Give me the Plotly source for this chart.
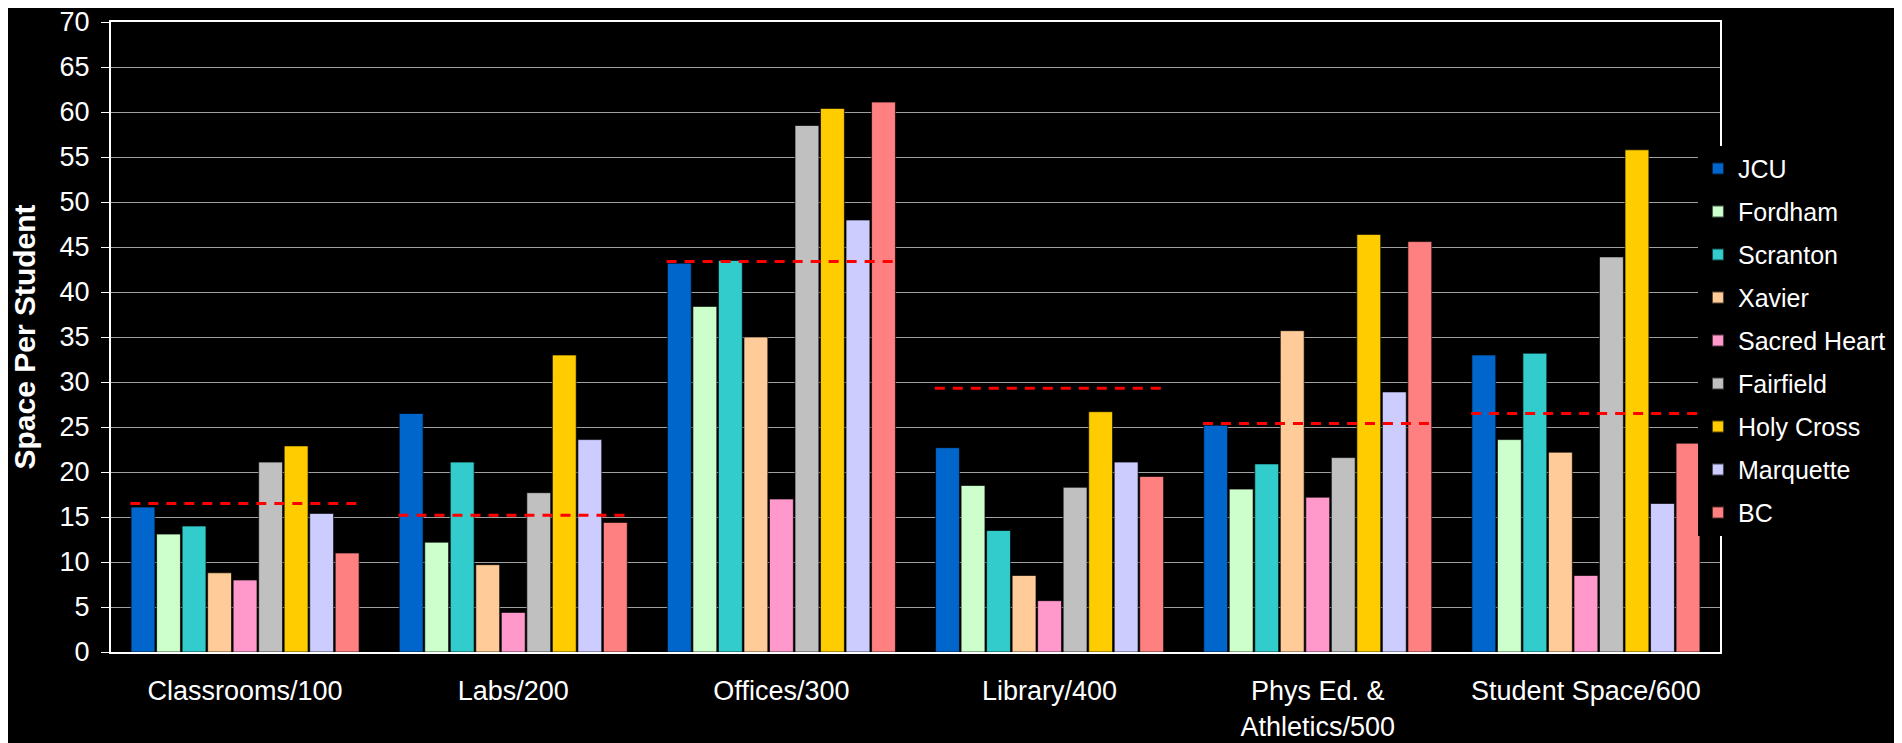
import plotly.graph_objects as go

categories = ["Classrooms/100", "Labs/200", "Offices/300", "Library/400",
              "Phys Ed. &<br>Athletics/500", "Student Space/600"]

schools = ["JCU", "Fordham", "Scranton", "Xavier", "Sacred Heart",
           "Fairfield", "Holy Cross", "Marquette", "BC"]

colors = ["#0066CC", "#CCFFCC", "#33CCCC", "#FFCC99", "#FF99CC",
          "#C0C0C0", "#FFCC00", "#CCCCFF", "#FF8080"]

jcu = [16.1, 26.5, 43.2, 22.7, 25.2, 33.0]
fordham = [13.1, 12.2, 38.4, 18.5, 18.1, 23.6]
scranton = [14.0, 21.1, 43.5, 13.5, 20.9, 33.2]
xavier = [8.8, 9.7, 35.0, 8.5, 35.7, 22.2]
sacred_heart = [8.0, 4.4, 17.0, 5.7, 17.2, 8.5]
fairfield = [21.1, 17.7, 58.5, 18.3, 21.6, 43.9]
holy_cross = [22.9, 33.0, 60.4, 26.7, 46.4, 55.8]
marquette = [15.4, 23.6, 48.0, 21.1, 28.9, 16.5]
bc = [11.0, 14.4, 61.1, 19.5, 45.6, 23.2]

benchmark = [16.5, 15.2, 43.4, 29.3, 25.4, 26.5]

series = [jcu, fordham, scranton, xavier, sacred_heart,
          fairfield, holy_cross, marquette, bc]

FONT = "Arial, Liberation Sans, sans-serif"

fig = go.Figure()
for name, vals, col in zip(schools, series, colors):
    fig.add_trace(go.Bar(
        name=name, x=categories, y=vals, legendgroup=name,
        marker=dict(color=col, line=dict(color="rgba(0,0,0,0.65)", width=1)),
    ))

shapes = []
for i, b in enumerate(benchmark):
    shapes.append(dict(
        type="line", xref="x", yref="y",
        x0=i - 0.428, x1=i + 0.418, y0=b, y1=b,
        line=dict(color="#FF0000", width=3, dash="10px,8px"),
        layer="above",
    ))

fig.update_layout(
    width=1894, height=735,
    paper_bgcolor="black", plot_bgcolor="black",
    margin=dict(l=103, r=182, t=14, b=91, autoexpand=False),
    barmode="group", bargap=0.1435, bargroupgap=0.065,
    font=dict(family=FONT, color="white", size=27),
    shapes=shapes,
    showlegend=True,
    legend=dict(
        x=0.9863, xanchor="left", y=0.494, yanchor="middle",
        bgcolor="black", borderwidth=0,
        font=dict(family=FONT, size=25, color="white"),
        tracegroupgap=7.5, itemsizing="constant",
    ),
    xaxis=dict(
        type="category", showgrid=False, showline=True, linecolor="white",
        linewidth=2, mirror=True, ticks="", ticklabelstandoff=14,
        ticklabeloverflow="allow",
        tickfont=dict(family=FONT, size=27, color="white"), automargin=False,
    ),
    yaxis=dict(
        range=[0, 70], dtick=5, showgrid=True, gridcolor="#a0a0a0", gridwidth=1,
        showline=True, linecolor="white", linewidth=2, mirror=True,
        ticks="outside", ticklen=8, tickcolor="white", tickwidth=1,
        ticklabelstandoff=6, zeroline=False, ticklabeloverflow="allow",
        tickfont=dict(family=FONT, size=27, color="white"), automargin=False,
        title=dict(text="<b>Space Per Student</b>", standoff=16,
                   font=dict(family=FONT, size=30, color="white")),
    ),
)

fig.write_html("out.html")
